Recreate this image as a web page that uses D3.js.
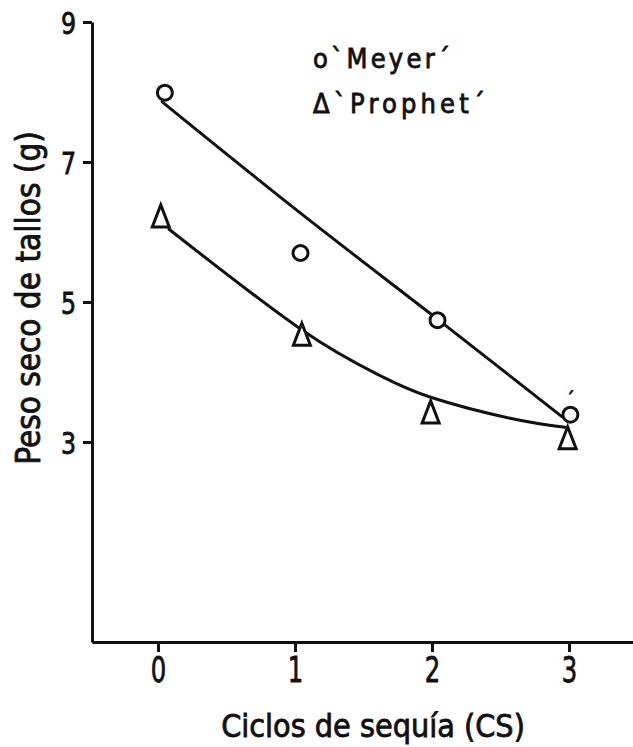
<!DOCTYPE html>
<html>
<head>
<meta charset="utf-8">
<script src="https://cdn.jsdelivr.net/npm/d3@7"></script>
<style>
  html, body { margin: 0; padding: 0; background: #fff; }
  svg { display: block; }
  text { font-family: "DejaVu Sans Condensed", "DejaVu Sans", sans-serif; fill: #111; stroke: #111; stroke-width: 0.8px; }
</style>
</head>
<body>
<script>
// Drought cycles on the x axis, dry stem weight on the y axis
const xTicks = [0, 1, 2, 3];
const yTicks = [3, 5, 7, 9];

const meyerX = [0.05, 1.04, 2.04, 3.01];
const meyerY = [7.99, 5.70, 4.74, 3.39];
const prophetX = [0.02, 1.05, 1.99, 2.99];
const prophetY = [6.23, 4.54, 3.43, 3.06];

// Hand fitted curves, sampled along the drawn line
const meyerFitX = [0.03, 1.04, 2.03, 2.95];
const meyerFitY = [7.86, 6.27, 4.77, 3.36];
const prophetFitX = [0.08, 1.05, 1.62, 1.99, 2.57, 2.97];
const prophetFitY = [6.04, 4.60, 3.95, 3.64, 3.34, 3.21];

const legendLabels = ["o`Meyer´", "\u0394`Prophet´"];

const W = 633, H = 747;
const INK = "#111";

const svg = d3.select("body").append("svg")
  .attr("width", W).attr("height", H);

svg.append("rect").attr("width", W).attr("height", H).attr("fill", "#fff");

const x = d3.scaleLinear().domain([-0.482, 3.467]).range([92, 633]);
const y = d3.scaleLinear().domain([0.143, 9]).range([642, 22]);

// y axis
const gy = svg.append("g")
  .attr("transform", `translate(${x.range()[0]},0)`)
  .call(d3.axisLeft(y).tickValues(yTicks).tickSize(9).tickSizeOuter(0).tickFormat(d3.format("d")));
gy.select(".domain").attr("stroke", INK).attr("stroke-width", 3);
gy.selectAll(".tick line").attr("stroke", INK).attr("stroke-width", 3);
gy.selectAll(".tick text")
  .attr("font-family", null).attr("font-size", 31)
  .attr("x", -16 / 0.85).attr("dy", "0.36em")
  .attr("transform", "scale(0.85,1)");

// x axis
const gx = svg.append("g")
  .attr("transform", `translate(0,${y.range()[0]})`)
  .call(d3.axisBottom(x).tickValues(xTicks).tickSize(10).tickSizeOuter(0).tickFormat(d3.format("d")));
gx.select(".domain").attr("stroke", INK).attr("stroke-width", 3);
gx.selectAll(".tick line").attr("stroke", INK).attr("stroke-width", 3);
gx.selectAll(".tick text")
  .attr("font-family", null).attr("font-size", 36)
  .attr("y", 40).attr("dy", 0)
  .attr("transform", "scale(0.75,1)");

// fitted curves
const line = d3.line()
  .x(d => x(d[0])).y(d => y(d[1]))
  .curve(d3.curveNatural);

[[meyerFitX, meyerFitY], [prophetFitX, prophetFitY]].forEach(([xs, ys]) => {
  svg.append("path")
    .attr("d", line(xs.map((v, i) => [v, ys[i]])))
    .attr("fill", "none")
    .attr("stroke", INK)
    .attr("stroke-width", 3)
    .attr("stroke-linecap", "round");
});

// Meyer: open circles
svg.append("g").selectAll("circle")
  .data(meyerX.map((v, i) => [v, meyerY[i]]))
  .join("circle")
  .attr("cx", d => x(d[0])).attr("cy", d => y(d[1]))
  .attr("r", 7.5)
  .attr("fill", "#fff").attr("stroke", INK).attr("stroke-width", 3);

// Prophet: open triangles
const tri = "M0,-11 L8.5,11 L-8.5,11 Z";
svg.append("g").selectAll("path")
  .data(prophetX.map((v, i) => [v, prophetY[i]]))
  .join("path")
  .attr("d", tri)
  .attr("transform", d => `translate(${x(d[0])},${y(d[1])})`)
  .attr("fill", "#fff").attr("stroke", INK).attr("stroke-width", 3)
  .attr("stroke-linejoin", "miter");

// small stray accent above the last Meyer point
svg.append("text")
  .attr("x", x(meyerX[3])).attr("y", y(meyerY[3]) - 10)
  .attr("text-anchor", "middle").attr("font-size", 18)
  .text("´");

// legend
const legendW = [137, 172];
legendLabels.forEach((t, i) => {
  svg.append("text")
    .attr("x", 313).attr("y", 68 + i * 45)
    .attr("font-size", 27)
    .attr("textLength", legendW[i]).attr("lengthAdjust", "spacing")
    .text(t);
});

// axis titles
svg.append("text")
  .attr("x", 373).attr("y", 737)
  .attr("text-anchor", "middle").attr("font-size", 32)
  .text("Ciclos de sequía (CS)");

svg.append("text")
  .attr("transform", "translate(40,298) rotate(-90)")
  .attr("text-anchor", "middle").attr("font-size", 33)
  .text("Peso seco de tallos (g)");
</script>
</body>
</html>
